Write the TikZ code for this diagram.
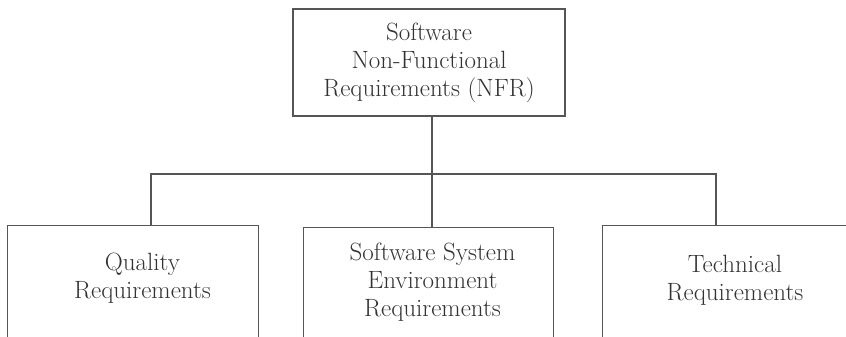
\documentclass[tikz,border=0pt]{standalone}
\definecolor{boxline}{HTML}{555555}
\definecolor{ink}{HTML}{333333}
\begin{document}
\begin{tikzpicture}[x=1pt, y=-1pt,
    box/.style={rectangle, draw=boxline, line width=1.1pt, inner sep=0pt, anchor=north west, minimum height=140pt},
    words/.style={align=center, text=ink, font=\fontsize{25}{28}\selectfont, inner sep=0pt},
    link/.style={draw=boxline, line width=1.1pt}]
  \useasboundingbox (0,0) rectangle (846,337);
  \clip (0,0) rectangle (846,337);
  \node (nfr) at (429,62.5) [box, anchor=center, minimum width=272pt, minimum height=107pt, words] {Software\\Non-Functional\\Requirements (NFR)};
  \node (qualbox) at (7,225) [box, minimum width=251pt] {};
  \node (envbox) at (303,227) [box, minimum width=250pt] {};
  \node (techbox) at (602,225) [box, minimum width=290pt] {};
  \node (qual) at (142.5,278) [words] {Quality\\Requirements};
  \node (env) at (432.5,282.5) [words] {Software System\\Environment\\Requirements};
  \node (tech) at (735,280.5) [words] {Technical\\Requirements};
  \coordinate (hub) at (432,174);
  \draw[link] (nfr.south -| hub) -- (hub);
  \foreach \dest/\off in {qualbox/144, envbox/129, techbox/114}
    \draw[link] (hub) -| ([xshift=\off]\dest.north west);
\end{tikzpicture}
\end{document}
